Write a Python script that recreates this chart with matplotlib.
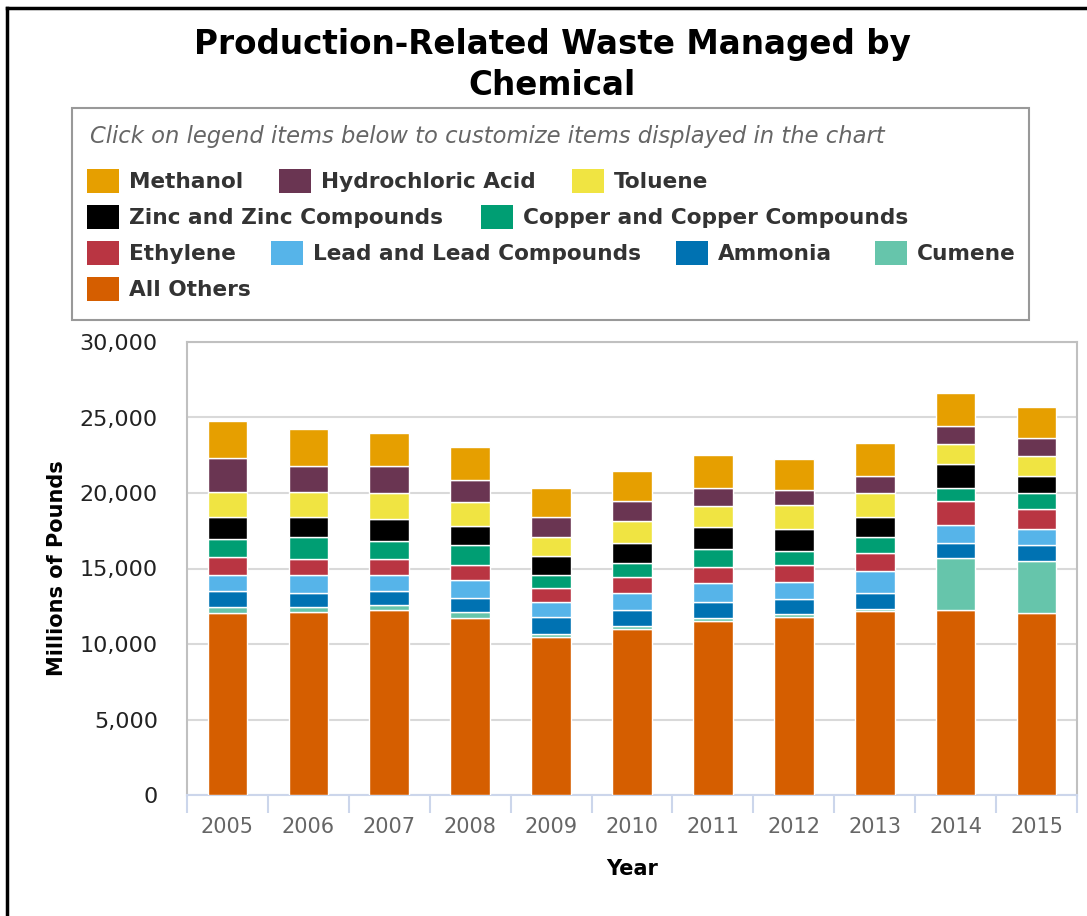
import matplotlib.pyplot as plt
from matplotlib.patches import Rectangle
from matplotlib.lines import Line2D
from matplotlib.ticker import FuncFormatter
import numpy as np

# Data (millions of pounds)
years = ['2005', '2006', '2007', '2008', '2009', '2010', '2011', '2012', '2013', '2014', '2015']
all_others = [12080, 12120, 12240, 11730, 10490, 11020, 11530, 11820, 12190, 12240, 12080]
cumene = [400, 360, 370, 370, 170, 150, 220, 150, 160, 3430, 3430]
ammonia = [1060, 930, 930, 930, 1160, 1050, 1020, 1040, 1060, 1030, 1040]
lead = [1040, 1170, 1040, 1200, 930, 1190, 1280, 1100, 1430, 1200, 1060]
ethylene = [1170, 1040, 1040, 1010, 930, 1060, 1060, 1130, 1200, 1550, 1310]
copper = [1200, 1480, 1190, 1310, 900, 910, 1170, 930, 1040, 900, 1060]
zinc = [1440, 1290, 1460, 1280, 1260, 1300, 1460, 1440, 1310, 1600, 1170]
toluene = [1700, 1700, 1710, 1590, 1220, 1440, 1420, 1590, 1590, 1300, 1330]
hcl = [2230, 1700, 1830, 1460, 1350, 1330, 1170, 1020, 1170, 1180, 1150]
methanol = [2440, 2460, 2170, 2180, 1900, 2030, 2190, 2040, 2170, 2190, 2060]

# stacking order, bottom to top
series = [
    ('All Others', all_others, '#D55E00'),
    ('Cumene', cumene, '#66C5AB'),
    ('Ammonia', ammonia, '#0072B2'),
    ('Lead and Lead Compounds', lead, '#56B4E9'),
    ('Ethylene', ethylene, '#B93542'),
    ('Copper and Copper Compounds', copper, '#009E73'),
    ('Zinc and Zinc Compounds', zinc, '#000000'),
    ('Toluene', toluene, '#F0E442'),
    ('Hydrochloric Acid', hcl, '#6A3552'),
    ('Methanol', methanol, '#E69F00'),
]
colors = {name: c for name, _, c in series}

W, H = 1087, 916
fig = plt.figure(figsize=(W / 100, H / 100), dpi=100)

def fx(px):
    return px / W

def fy(py):
    return 1 - py / H

# outer frame (top and left only)
fig.add_artist(Line2D([fx(7), 1], [fy(8), fy(8)], color='black', lw=2.5))
fig.add_artist(Line2D([fx(7), fx(7)], [fy(8), 0], color='black', lw=2.5))

# title
fig.text(fx(552), fy(65), 'Production-Related Waste Managed by\nChemical',
         ha='center', va='center', fontsize=23.5, fontweight='bold',
         linespacing=1.3, color='black')

# legend box
fig.add_artist(Rectangle((fx(72), fy(320)), fx(1029) - fx(72), fy(108) - fy(320),
                         transform=fig.transFigure, fill=False,
                         edgecolor='#999999', lw=1.5))
fig.text(fx(90), fy(137), 'Click on legend items below to customize items displayed in the chart',
         ha='left', va='center', fontsize=16.3, style='italic', color='#666666')

legend_layout = [
    ('Methanol', 87, 181), ('Hydrochloric Acid', 279, 181), ('Toluene', 572, 181),
    ('Zinc and Zinc Compounds', 87, 217), ('Copper and Copper Compounds', 481, 217),
    ('Ethylene', 87, 253), ('Lead and Lead Compounds', 271, 253),
    ('Ammonia', 676, 253), ('Cumene', 875, 253),
    ('All Others', 87, 289),
]
for name, x0, yc in legend_layout:
    fig.add_artist(Rectangle((fx(x0), fy(yc + 12)), fx(32), 24 / H,
                             transform=fig.transFigure, facecolor=colors[name],
                             edgecolor='none'))
    fig.text(fx(x0 + 42), fy(yc + 1), name, ha='left', va='center',
             fontsize=15.6, fontweight='bold', color='#333333')

# plot area
ax = fig.add_axes([fx(187), fy(795), fx(1077) - fx(187), fy(342) - fy(795)])
x = np.arange(len(years))
bottom = np.zeros(len(years))
for name, vals, col in series:
    ax.bar(x, vals, width=0.49, bottom=bottom, color=col,
           edgecolor='white', linewidth=1, zorder=3, label=name)
    bottom += np.array(vals)

ax.set_xlim(-0.5, len(years) - 0.5)
ax.set_ylim(0, 30000)
ax.set_yticks(np.arange(0, 30001, 5000))
ax.yaxis.set_major_formatter(FuncFormatter(lambda v, p: f'{int(v):,}'))
ax.grid(axis='y', color='#d9d9d9', lw=1.5, zorder=0)

ax.set_xticks(x)
ax.set_xticklabels(years)
ax.set_xticks(np.arange(-0.5, len(years), 1.0), minor=True)
ax.tick_params(axis='x', which='major', length=0, pad=16, labelsize=15, labelcolor='#666666')
ax.tick_params(axis='x', which='minor', length=13, width=1.5, color='#ccd6eb', direction='out')
ax.tick_params(axis='y', length=0, pad=21, labelsize=16, labelcolor='#222222')

for side in ['left', 'right', 'top']:
    ax.spines[side].set_color('#c0c0c0')
    ax.spines[side].set_linewidth(1.5)
ax.spines['bottom'].set_color('#ccd6eb')
ax.spines['bottom'].set_linewidth(1.5)

ax.set_ylabel('Millions of Pounds', fontsize=15, fontweight='bold')
ax.yaxis.set_label_coords(-0.135, 0.5)
ax.set_xlabel('Year', fontsize=15, fontweight='bold')
ax.xaxis.set_label_coords(0.5, -0.141)

fig.savefig('out.png', dpi=100)
